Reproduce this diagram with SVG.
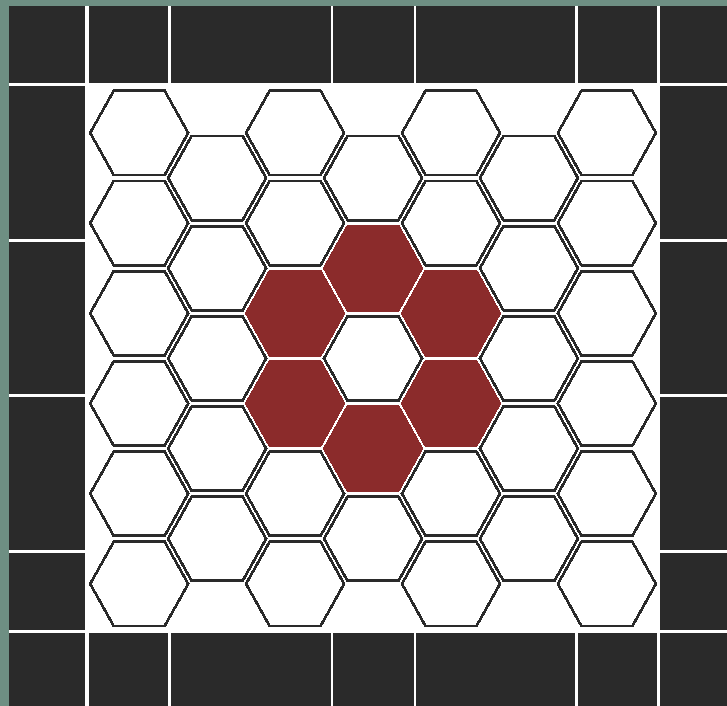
<svg xmlns="http://www.w3.org/2000/svg" width="727" height="706" viewBox="0 0 727 706">
<style>
.bg{fill:#6e8f83}
.paper{fill:#ffffff}
.cell{fill:#2a2a2a}
.hex{fill:#ffffff;stroke:#2a2a2a;stroke-width:2.8;shape-rendering:crispEdges}
.red{fill:#8b2b2b;stroke:#8b2b2b;stroke-width:2.4;shape-rendering:crispEdges}
</style>
<defs>
<polygon id="hx" points="-49,0 -25.5,-42.1 25.5,-42.1 49,0 25.5,42.1 -25.5,42.1"/>
</defs>
<rect class="bg" x="0" y="0" width="727" height="706"/>
<rect class="paper" x="9" y="6" width="718" height="700"/>
<g id="frame">
<rect class="cell" x="9" y="6" width="76" height="77"/>
<rect class="cell" x="89" y="6" width="79" height="77"/>
<rect class="cell" x="171" y="6" width="160" height="77"/>
<rect class="cell" x="333" y="6" width="81" height="77"/>
<rect class="cell" x="416" y="6" width="159" height="77"/>
<rect class="cell" x="578" y="6" width="79" height="77"/>
<rect class="cell" x="660" y="6" width="67" height="77"/>
<rect class="cell" x="9" y="633" width="76" height="73"/>
<rect class="cell" x="89" y="633" width="79" height="73"/>
<rect class="cell" x="171" y="633" width="160" height="73"/>
<rect class="cell" x="333" y="633" width="81" height="73"/>
<rect class="cell" x="416" y="633" width="159" height="73"/>
<rect class="cell" x="578" y="633" width="79" height="73"/>
<rect class="cell" x="660" y="633" width="67" height="73"/>
<rect class="cell" x="9" y="86" width="76" height="153"/>
<rect class="cell" x="9" y="242" width="76" height="152"/>
<rect class="cell" x="9" y="397" width="76" height="153"/>
<rect class="cell" x="9" y="553" width="76" height="77"/>
<rect class="cell" x="660" y="86" width="67" height="153"/>
<rect class="cell" x="660" y="242" width="67" height="152"/>
<rect class="cell" x="660" y="397" width="67" height="153"/>
<rect class="cell" x="660" y="553" width="67" height="77"/>
</g>
<g id="hexes">
<g id="h-0-0"><use href="#hx" class="hex" x="139.2" y="132.9"/></g>
<g id="h-0-1"><use href="#hx" class="hex" x="139.2" y="223.1"/></g>
<g id="h-0-2"><use href="#hx" class="hex" x="139.2" y="313.3"/></g>
<g id="h-0-3"><use href="#hx" class="hex" x="139.2" y="403.5"/></g>
<g id="h-0-4"><use href="#hx" class="hex" x="139.2" y="493.7"/></g>
<g id="h-0-5"><use href="#hx" class="hex" x="139.2" y="583.9"/></g>
<g id="h-1-0"><use href="#hx" class="hex" x="217.15" y="178"/></g>
<g id="h-1-1"><use href="#hx" class="hex" x="217.15" y="268.2"/></g>
<g id="h-1-2"><use href="#hx" class="hex" x="217.15" y="358.4"/></g>
<g id="h-1-3"><use href="#hx" class="hex" x="217.15" y="448.6"/></g>
<g id="h-1-4"><use href="#hx" class="hex" x="217.15" y="538.8"/></g>
<g id="h-2-0"><use href="#hx" class="hex" x="295.1" y="132.9"/></g>
<g id="h-2-1"><use href="#hx" class="hex" x="295.1" y="223.1"/></g>
<g id="h-2-2"><use href="#hx" class="red" x="295.1" y="313.3"/></g>
<g id="h-2-3"><use href="#hx" class="red" x="295.1" y="403.5"/></g>
<g id="h-2-4"><use href="#hx" class="hex" x="295.1" y="493.7"/></g>
<g id="h-2-5"><use href="#hx" class="hex" x="295.1" y="583.9"/></g>
<g id="h-3-0"><use href="#hx" class="hex" x="373.05" y="178"/></g>
<g id="h-3-1"><use href="#hx" class="red" x="373.05" y="268.2"/></g>
<g id="h-3-2"><use href="#hx" class="hex" x="373.05" y="358.4"/></g>
<g id="h-3-3"><use href="#hx" class="red" x="373.05" y="448.6"/></g>
<g id="h-3-4"><use href="#hx" class="hex" x="373.05" y="538.8"/></g>
<g id="h-4-0"><use href="#hx" class="hex" x="451" y="132.9"/></g>
<g id="h-4-1"><use href="#hx" class="hex" x="451" y="223.1"/></g>
<g id="h-4-2"><use href="#hx" class="red" x="451" y="313.3"/></g>
<g id="h-4-3"><use href="#hx" class="red" x="451" y="403.5"/></g>
<g id="h-4-4"><use href="#hx" class="hex" x="451" y="493.7"/></g>
<g id="h-4-5"><use href="#hx" class="hex" x="451" y="583.9"/></g>
<g id="h-5-0"><use href="#hx" class="hex" x="528.95" y="178"/></g>
<g id="h-5-1"><use href="#hx" class="hex" x="528.95" y="268.2"/></g>
<g id="h-5-2"><use href="#hx" class="hex" x="528.95" y="358.4"/></g>
<g id="h-5-3"><use href="#hx" class="hex" x="528.95" y="448.6"/></g>
<g id="h-5-4"><use href="#hx" class="hex" x="528.95" y="538.8"/></g>
<g id="h-6-0"><use href="#hx" class="hex" x="606.9" y="132.9"/></g>
<g id="h-6-1"><use href="#hx" class="hex" x="606.9" y="223.1"/></g>
<g id="h-6-2"><use href="#hx" class="hex" x="606.9" y="313.3"/></g>
<g id="h-6-3"><use href="#hx" class="hex" x="606.9" y="403.5"/></g>
<g id="h-6-4"><use href="#hx" class="hex" x="606.9" y="493.7"/></g>
<g id="h-6-5"><use href="#hx" class="hex" x="606.9" y="583.9"/></g>
</g>
</svg>
